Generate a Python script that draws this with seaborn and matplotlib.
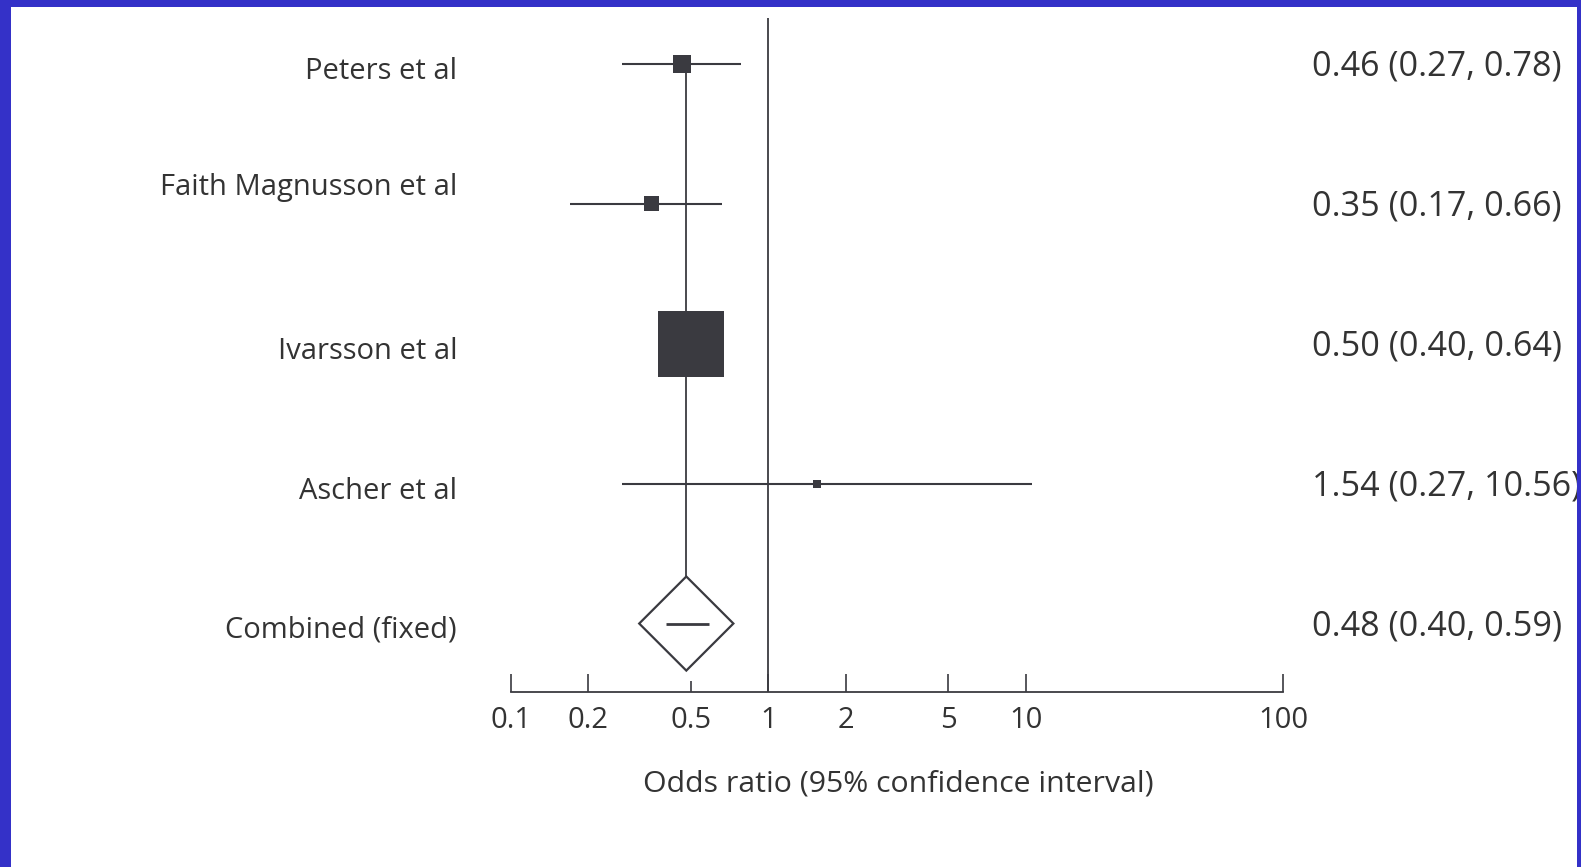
import numpy as np
import pandas as pd
import seaborn as sns
import matplotlib
matplotlib.use("Agg")
import matplotlib.pyplot as plt
from matplotlib.patches import Rectangle
from matplotlib import transforms
from matplotlib.ticker import NullLocator

# ---- data ----
studies = ["Peters et al", "Faith Magnusson et al", "Ivarsson et al", "Ascher et al"]
odds = [0.46, 0.35, 0.50, 1.54]
ci_low = [0.27, 0.17, 0.40, 0.27]
ci_high = [0.78, 0.66, 0.64, 10.56]
combined_label = "Combined (fixed)"
combined_or = 0.48
combined_low = 0.40
combined_high = 0.59
tick_values = [0.1, 0.2, 0.5, 1, 2, 5, 10, 100]
tick_labels = ["0.1", "0.2", "0.5", "1", "2", "5", "10", "100"]
x_label = "Odds ratio (95% confidence interval)"

# ---- styles ----
box_px = [18, 15, 66, 8]          # square side lengths in pixels
label_dy_px = [8, -16, 8, 8, 6]   # vertical nudges of the left labels (pixels)
ink = "#3a3a40"
text_col = "#333333"
blue = "#3431C8"

sns.set_theme(style="white")
plt.rcParams["font.family"] = ["Open Sans", "DejaVu Sans"]

W, H = 1581, 867
fig = plt.figure(figsize=(W / 100, H / 100), dpi=100)
fig.patch.set_facecolor("white")
ax = fig.add_axes([511 / W, (H - 692) / H, 772 / W, (692 - 18) / H])
ax.set_facecolor("white")

rows = list(range(len(studies)))
comb_row = len(studies)
labels_all = studies + [combined_label]

df = pd.DataFrame({"study": studies, "odds": odds, "row": rows})
sizes = {s: (p * 0.72) ** 2 for s, p in zip(studies, box_px)}

ax.set_xscale("log")
ax.set_xlim(tick_values[0], tick_values[-1])
ax.set_ylim(4.489, -0.325)
row_px = 140.0

# reference line at OR = 1
ax.axvline(1, color=ink, lw=1.3, zorder=1)
# line at combined estimate
hh = 0.336
ax.vlines(combined_or, rows[0], comb_row - hh, color=ink, lw=1.3, zorder=1)

# confidence intervals
ax.hlines(rows, ci_low, ci_high, color=ink, lw=1.5, zorder=2)

# study squares
sns.scatterplot(data=df, x="odds", y="row", size="study", sizes=sizes,
                marker="s", color=ink, linewidth=0, legend=False, ax=ax, zorder=3)

# combined diamond
c = np.log10(combined_or)
hw = 0.183
dx = [10 ** (c - hw), combined_or, 10 ** (c + hw), combined_or]
dy = [comb_row, comb_row - hh, comb_row, comb_row + hh]
ax.fill(dx, dy, facecolor="white", edgecolor=ink, lw=1.6, zorder=3)
ax.hlines(comb_row, combined_low, combined_high, color=ink, lw=2.0, zorder=4)

# axes styling
for side in ["left", "top", "right"]:
    ax.spines[side].set_visible(False)
ax.spines["bottom"].set_color(ink)
ax.spines["bottom"].set_linewidth(1.3)
ax.set_xticks(tick_values)
ax.set_xticklabels(tick_labels)
ax.xaxis.set_minor_locator(NullLocator())
ax.set_yticks([])
ax.set_ylabel("")
ax.tick_params(axis="x", direction="in", length=13, width=1.2, pad=10,
               labelsize=21, colors=ink, labelcolor=text_col, bottom=True)
# shorter tick under the diamond
ax.xaxis.get_major_ticks()[2].tick1line.set_markersize(8)
ax.set_xlabel(x_label, fontsize=21.8, color=text_col, labelpad=25)
ax.xaxis.label.set_x((898 - 511) / 772)

# row labels and values
left_tr = transforms.blended_transform_factory(fig.transFigure, ax.transData)
value_texts = [f"{o:.2f} ({l:.2f}, {h:.2f})" for o, l, h in zip(odds, ci_low, ci_high)]
value_texts.append(f"{combined_or:.2f} ({combined_low:.2f}, {combined_high:.2f})")
for r, (lab, val, dyp) in enumerate(zip(labels_all, value_texts, label_dy_px)):
    ax.text(457 / W, r + dyp / row_px, lab, transform=left_tr, ha="right", va="center",
            fontsize=21, color=text_col, clip_on=False)
    ax.text(1312 / W, r + 3 / row_px, val, transform=left_tr, ha="left", va="center",
            fontsize=24.6, color=text_col, clip_on=False)

# blue frame
for (x0, y0, w, h) in [(0, 1 - 7 / H, 1, 7 / H), (0, 0, 11 / W, 1), (1 - 4 / W, 0, 4 / W, 1)]:
    fig.add_artist(Rectangle((x0, y0), w, h, transform=fig.transFigure,
                             facecolor=blue, edgecolor="none", zorder=50))

fig.savefig("out.png", dpi=100, facecolor=fig.get_facecolor())
